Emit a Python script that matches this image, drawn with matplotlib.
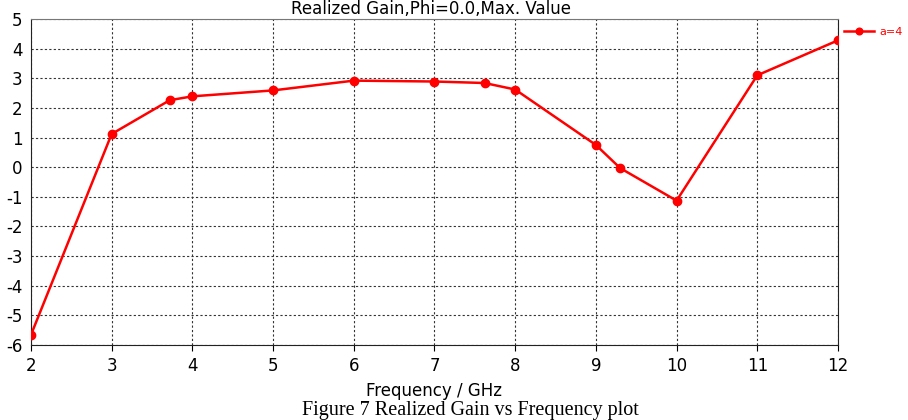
import matplotlib
matplotlib.use('Agg')
import matplotlib.pyplot as plt

plt.rcParams['axes.unicode_minus'] = False

# Realized gain vs frequency
freq = [2, 3, 3.72, 4, 5, 6, 7, 7.62, 8, 9, 9.3, 10, 11, 12]
gain = [-5.66, 1.12, 2.26, 2.39, 2.59, 2.92, 2.89, 2.84, 2.62, 0.75, -0.03, -1.13, 3.1, 4.28]
xticks = list(range(2, 13))
yticks = list(range(-6, 6))

red = '#ff0000'
fig = plt.figure(figsize=(9.08, 4.2), dpi=100)
ax = fig.add_axes([0.0341, 0.1786, 0.8888, 0.7762])

ax.plot(freq, gain, '-o', color=red, lw=1.8, ms=6, label='a=4', zorder=3)

ax.set_xlim(2, 12); ax.set_ylim(-6, 5)
ax.set_xticks(xticks); ax.set_yticks(yticks)
ax.grid(True, color='#333333', ls=(0, (2, 2)), lw=0.8)
ax.tick_params(axis='x', labelsize=12, length=4, width=0.8, direction='out', pad=5)
ax.tick_params(axis='y', labelsize=12, length=0, pad=6)
for s in ['left', 'bottom', 'right']:
    ax.spines[s].set_color('#222222')
ax.spines['top'].set_color('#777777')

ax.set_xlabel('Frequency / GHz', fontsize=12, labelpad=5)

leg = ax.legend(loc='upper left', bbox_to_anchor=(0.998, 1.0), frameon=False,
                fontsize=8, handlelength=2.7, handletextpad=0.5, markerscale=0.8,
                borderaxespad=0.3)
for t in leg.get_texts():
    t.set_color(red)

fig.text(0.475, 1.0, 'Realized Gain,Phi=0.0,Max. Value', ha='center', va='top', fontsize=12)
fig.text(0.518, 0.0, 'Figure 7 Realized Gain vs Frequency plot', ha='center', va='bottom',
         fontsize=14.5, family='Liberation Serif')

fig.savefig('out.png', dpi=100)
